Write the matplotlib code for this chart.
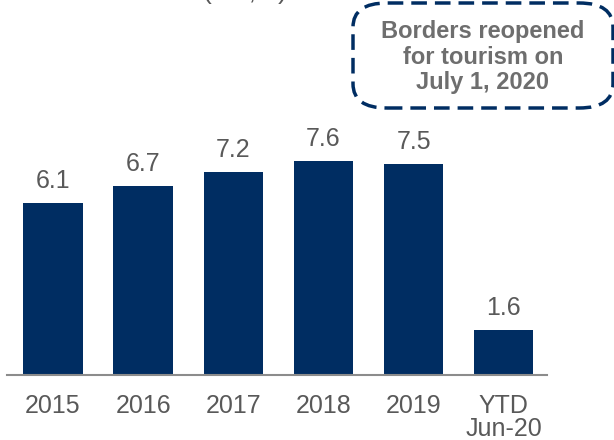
import numpy as np
import matplotlib
matplotlib.use('Agg')
import matplotlib.pyplot as plt
from matplotlib.patches import FancyBboxPatch

plt.rcParams['font.family'] = ['Liberation Sans', 'DejaVu Sans']

categories = ['2015', '2016', '2017', '2018', '2019', 'YTD\nJun-20']
values = [6.1, 6.7, 7.2, 7.6, 7.5, 1.6]
note = 'Borders reopened\nfor tourism on\nJuly 1, 2020'

navy = '#002d62'
grey = '#595959'

fig = plt.figure(figsize=(6.14, 4.4), dpi=100)
ax = fig.add_axes([7/614, 65/440, 540/614, 375/440])

x = np.arange(len(values))
ax.bar(x, values, width=0.66, color=navy, zorder=2)
for xi, v in zip(x, values):
    ax.annotate(f'{v:.1f}', (xi, v), xytext=(0, 7), textcoords='offset points',
                ha='center', va='bottom', fontsize=18, color=grey)

ax.set_xlim(-0.51, 5.48)
ax.set_ylim(0, 13.3)
ax.set_xticks(x)
ax.set_xticklabels(categories, fontsize=18, color=grey, linespacing=0.95)
ax.tick_params(axis='x', length=0, pad=14)
ax.set_yticks([])
for s in ['top', 'right', 'left']:
    ax.spines[s].set_visible(False)
ax.spines['bottom'].set_color('#8c8c8c')
ax.spines['bottom'].set_linewidth(1.5)

# title, mostly cut off at the top of the picture
fig.text(245/614, 441/440, '(mn, #)', ha='center', va='baseline',
         fontsize=19, color=grey)

# dashed callout box
box = FancyBboxPatch((0, 0), 1, 1, transform=fig.transFigure,
                     boxstyle='round,pad=0,rounding_size=0.055',
                     fill=False, edgecolor=navy, linewidth=2.5,
                     linestyle=(0, (4.5, 2.3)), clip_on=False)
box.set_bounds(353/614, 1 - 108/440, 260/614, 105/440)
fig.patches.append(box)
fig.text(483/614, 1 - 57/440, note, ha='center', va='center', fontsize=17,
         fontweight='bold', color='#6e6e6e', linespacing=1.12)

fig.savefig('out.png', dpi=100)
